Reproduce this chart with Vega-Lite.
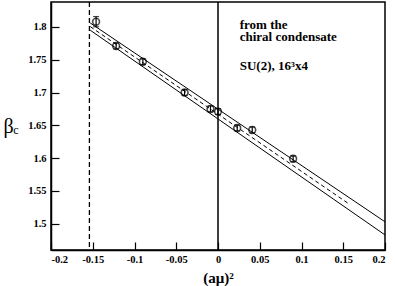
{
  "$schema": "https://vega.github.io/schema/vega-lite/v6.json",
  "width": 334,
  "height": 248,
  "autosize": {"type": "none"},
  "padding": {"left": 51, "top": 2, "right": 10, "bottom": 36},
  "background": "white",
  "config": {
    "view": {"stroke": "black", "strokeWidth": 1.5},
    "axis": {"grid": false, "domainColor": "black", "domainWidth": 1.5, "labelColor": "black", "titleColor": "black", "labelFont": "Liberation Serif", "titleFont": "Liberation Serif", "labelFontWeight": "bold", "labelFontSize": 10.5}
  },
  "datasets": {
    "band": [
      {"line": "upper", "x": -0.153, "y": 1.806},
      {"line": "upper", "x": 0.2, "y": 1.503},
      {"line": "lower", "x": -0.153, "y": 1.795},
      {"line": "lower", "x": 0.2, "y": 1.483}
    ],
    "center": [
      {"x": -0.153, "y": 1.8005},
      {"x": 0.156, "y": 1.531}
    ],
    "points": [
      {"x": -0.146, "y": 1.808, "ylo": 1.8002, "yhi": 1.8158},
      {"x": -0.122, "y": 1.771, "ylo": 1.7665, "yhi": 1.7755},
      {"x": -0.09, "y": 1.747, "ylo": 1.7425, "yhi": 1.7515},
      {"x": -0.04, "y": 1.700, "ylo": 1.6955, "yhi": 1.7045},
      {"x": -0.009, "y": 1.675, "ylo": 1.6705, "yhi": 1.6795},
      {"x": 0.0, "y": 1.671, "ylo": 1.6665, "yhi": 1.6755},
      {"x": 0.023, "y": 1.646, "ylo": 1.6415, "yhi": 1.6505},
      {"x": 0.041, "y": 1.643, "ylo": 1.6385, "yhi": 1.6475},
      {"x": 0.090, "y": 1.599, "ylo": 1.5945, "yhi": 1.6035}
    ],
    "vlines": [
      {"x": 0, "kind": "solid"},
      {"x": -0.154, "kind": "dashed"}
    ],
    "notes": [
      {"x": 0.026, "y": 1.7962, "label": "from the"},
      {"x": 0.026, "y": 1.7787, "label": "chiral condensate"},
      {"x": 0.026, "y": 1.7345, "label": "SU(2),  16³x4"}
    ],
    "subscript": [
      {"x": -0.242, "y": 1.637, "label": "c"}
    ]
  },
  "layer": [
    {
      "data": {"name": "band"},
      "mark": {"type": "line", "color": "black", "strokeWidth": 1},
      "encoding": {
        "x": {"field": "x", "type": "quantitative", "scale": {"domain": [-0.2, 0.2], "nice": false, "zero": false},
          "axis": {"orient": "bottom", "tickColor": "black", "tickWidth": 1.2, "tickSize": -8, "labelPadding": 12, "values": [-0.2, -0.15, -0.1, -0.05, 0, 0.05, 0.1, 0.15, 0.2], "labelExpr": "datum.value + ''", "title": "(aμ)²", "titleFontSize": 15, "titleFontWeight": "bold", "titleX": 167, "titleY": 32, "titleAlign": "center", "titleBaseline": "alphabetic"}},
        "y": {"field": "y", "type": "quantitative", "scale": {"domain": [1.46, 1.838], "nice": false, "zero": false},
          "axis": {"orient": "left", "tickColor": "black", "tickWidth": 1.2, "tickSize": -8, "labelPadding": 13, "values": [1.5, 1.55, 1.6, 1.65, 1.7, 1.75, 1.8], "labelExpr": "datum.value + ''", "title": "β", "titleAngle": 0, "titleFontSize": 20, "titleFontWeight": "normal", "titleX": -43, "titleY": 130, "titleAlign": "center", "titleBaseline": "alphabetic"}},
        "detail": {"field": "line"}
      }
    },
    {
      "data": {"name": "center"},
      "mark": {"type": "line", "color": "black", "strokeWidth": 1, "strokeDash": [4, 3]},
      "encoding": {
        "x": {"field": "x", "type": "quantitative"},
        "y": {"field": "y", "type": "quantitative"}
      }
    },
    {
      "data": {"name": "points"},
      "mark": {"type": "rule", "color": "black", "strokeWidth": 1.2},
      "encoding": {
        "x": {"field": "x", "type": "quantitative"},
        "y": {"field": "ylo", "type": "quantitative"},
        "y2": {"field": "yhi"}
      }
    },
    {
      "data": {"name": "points"},
      "mark": {"type": "point", "shape": "circle", "filled": false, "color": "black", "strokeWidth": 1.6, "size": 46},
      "encoding": {
        "x": {"field": "x", "type": "quantitative"},
        "y": {"field": "y", "type": "quantitative"}
      }
    },
    {
      "data": {"name": "points"},
      "mark": {"type": "tick", "orient": "horizontal", "size": 6, "thickness": 1.2, "color": "black"},
      "encoding": {
        "x": {"field": "x", "type": "quantitative"},
        "y": {"field": "ylo", "type": "quantitative"}
      }
    },
    {
      "data": {"name": "points"},
      "mark": {"type": "tick", "orient": "horizontal", "size": 6, "thickness": 1.2, "color": "black"},
      "encoding": {
        "x": {"field": "x", "type": "quantitative"},
        "y": {"field": "yhi", "type": "quantitative"}
      }
    },
    {
      "data": {"name": "vlines"},
      "mark": {"type": "rule", "color": "black"},
      "encoding": {
        "x": {"field": "x", "type": "quantitative"},
        "strokeDash": {"field": "kind", "type": "nominal", "scale": {"domain": ["solid", "dashed"], "range": [[1, 0], [5, 3]]}, "legend": null},
        "strokeWidth": {"field": "kind", "type": "nominal", "scale": {"domain": ["solid", "dashed"], "range": [1.5, 1.3]}, "legend": null}
      }
    },
    {
      "data": {"name": "notes"},
      "mark": {"type": "text", "align": "left", "baseline": "alphabetic", "font": "Liberation Serif", "fontWeight": "bold", "fontSize": 13, "color": "black"},
      "encoding": {
        "x": {"field": "x", "type": "quantitative"},
        "y": {"field": "y", "type": "quantitative"},
        "text": {"field": "label"}
      }
    },
    {
      "data": {"name": "subscript"},
      "mark": {"type": "text", "align": "center", "baseline": "alphabetic", "font": "Liberation Serif", "fontSize": 12, "color": "black", "clip": false},
      "encoding": {
        "x": {"field": "x", "type": "quantitative"},
        "y": {"field": "y", "type": "quantitative"},
        "text": {"field": "label"}
      }
    }
  ]
}
